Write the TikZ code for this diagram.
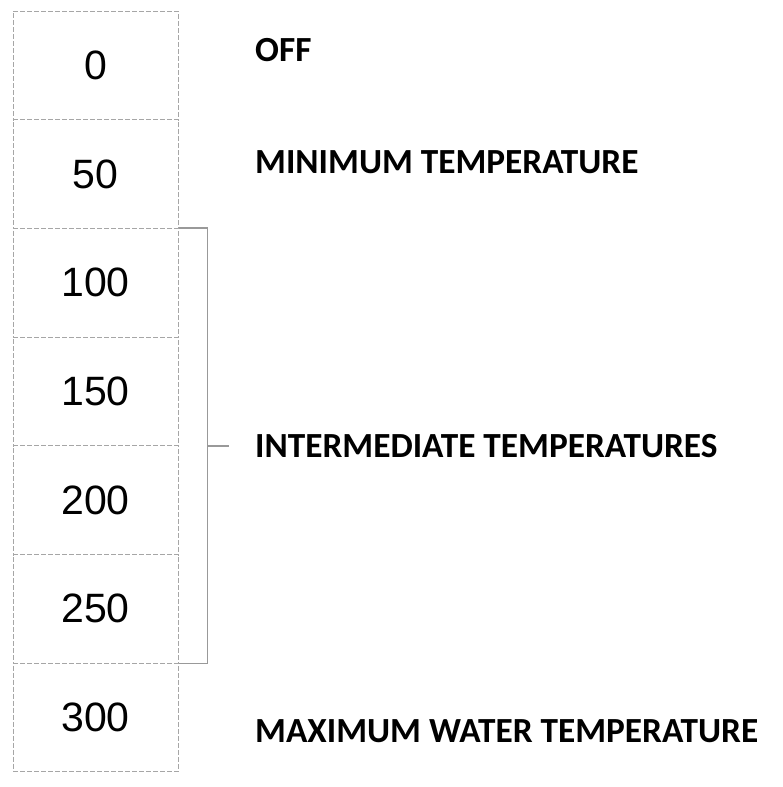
\documentclass[tikz,border=0pt]{standalone}
\usepackage{fontspec}
\setmainfont{Liberation Sans}
\newfontfamily\lblfont{Carlito}
\usepackage{tikz}
\usetikzlibrary{calc}
\tikzset{cell/.style={draw=gray!70,dash pattern=on 5pt off 2pt,line width=1pt,
  minimum width=165pt,minimum height=108.7pt,inner sep=0pt,font=\fontsize{41}{41}\selectfont}}
\tikzset{lbl/.style={anchor=west,inner sep=0pt,font=\lblfont\bfseries\fontsize{35.3}{35.3}\selectfont}}
\tikzset{bracket/.style={draw=gray!80,line width=1.5pt}}

\begin{document}
\begin{tikzpicture}[x=1pt,y=-1pt]
      \useasboundingbox (0,0) rectangle (783,787);
      \foreach \v [count=\i from 0] in {0,50,100,150,200,250,300}
        \node [cell] (c\v) at (95.5, {11+108.7*(\i+0.5)}) {\v};
      \draw [bracket] (c100.north east) -- ++(29,0) |- (c250.south east);
      \coordinate (brk) at ($(c100.north east)!0.5!(c250.south east)+(29,0)$);
      \draw [bracket] (brk) -- ++(21,0);
      \node [lbl] (off) at (255, 50) {OFF};
      \node [lbl] (min) at (255, 162.5) {MINIMUM TEMPERATURE};
      \node [lbl] (mid) at (255, 446) {INTERMEDIATE TEMPERATURES};
      \node [lbl] (max) at (255, 731) {MAXIMUM WATER TEMPERATURE};
    \end{tikzpicture}
\end{document}
